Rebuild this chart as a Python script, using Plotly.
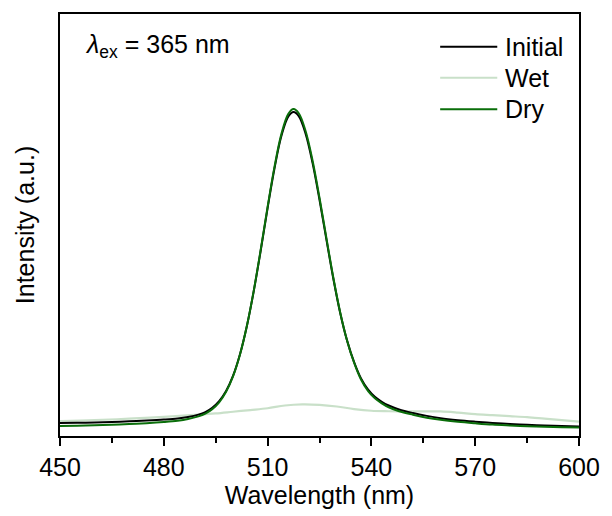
import plotly.graph_objects as go

# Photoluminescence spectra (excitation 365 nm)
wl_main = [450, 455, 460, 465, 470, 475, 480, 484, 487, 490, 492, 494, 496, 498,
           500, 502, 504, 506, 508, 510, 512, 514, 516,
           517.5,
           519, 521, 523, 525, 527, 529, 531, 533, 535, 537, 539, 541, 543,
           545, 548, 552, 556, 560, 565, 570, 575, 580, 585, 590, 595, 600]

initial = [13, 13.3, 13.7, 14.2, 14.8, 15.6, 16.6, 17.7, 19.2, 21.6, 24.2, 28.5, 35.2, 45.4,
           60.6, 82.2, 110.8, 146.3, 187, 230, 270.3, 303, 322.5,
           327,
           323, 305, 275.5, 238.5, 198.3, 158.8, 124, 96, 74.5, 58, 47, 39.5, 34.5,
           30.8, 26.8, 23.2, 20.3, 18, 16, 14.5, 13.2, 12.2, 11.3, 10.6, 10.1, 9.7]

dry = [10.1, 10.4, 10.8, 11.3, 12, 12.9, 14.1, 15.4, 17.1, 19.8, 22.6, 27.1, 34, 44.6,
       60.2, 82.1, 111, 146.8, 187.8, 231.2, 271.9, 305, 325.2,
       330,
       325.8, 307.7, 277.9, 240.5, 199.8, 159.8, 124.5, 96, 74, 57, 45.5, 38, 33,
       29, 25, 21.5, 18.5, 16.3, 14.3, 12.8, 11.5, 10.6, 9.8, 9.3, 8.8, 8.5]

wl_wet = [450, 460, 470, 480, 490, 495, 500, 505, 510, 515, 520, 525, 530, 535,
          540, 545, 550, 555, 560, 565, 570, 575, 580, 585, 590, 595, 600]
wet = [15, 16, 17.5, 19.4, 21.5, 22.8, 24.5, 26.2, 28, 30.8, 32, 31.5, 29.8, 27.2,
       25.5, 25, 24.8, 24.9, 24.8, 23.6, 22, 21, 20, 19, 17.5, 16, 14.5]

x_ticks = [450, 480, 510, 540, 570, 600]

colors = {"Initial": "#000000", "Wet": "#c9e0c9", "Dry": "#0a6e0a"}
FONT = "Liberation Sans, Arial, sans-serif"
FS = 25

fig = go.Figure()
fig.add_trace(go.Scatter(x=wl_wet, y=wet, mode="lines", name="Wet",
                         line=dict(color=colors["Wet"], width=2.2, shape="spline")))
fig.add_trace(go.Scatter(x=wl_main, y=initial, mode="lines", name="Initial",
                         line=dict(color=colors["Initial"], width=2, shape="spline")))
fig.add_trace(go.Scatter(x=wl_main, y=dry, mode="lines", name="Dry",
                         line=dict(color=colors["Dry"], width=2, shape="spline")))

# hand-placed legend: sample line + label per series
legend_rows = [("Initial", 0.9225), ("Wet", 0.849), ("Dry", 0.774)]
for name, yp in legend_rows:
    fig.add_shape(type="line", xref="paper", yref="paper", x0=0.7325, x1=0.8425,
                  y0=yp, y1=yp, line=dict(color=colors[name], width=2))
    fig.add_annotation(xref="paper", yref="paper", x=0.853, y=yp, text=name,
                       showarrow=False, xanchor="left", yanchor="middle",
                       font=dict(size=FS, color="black", family=FONT))

fig.add_annotation(xref="paper", yref="paper", x=0.045, y=0.925,
                   text="<i>λ</i><sub>ex</sub> = 365 nm", showarrow=False,
                   xanchor="left", yanchor="middle",
                   font=dict(size=FS, color="black", family=FONT))

fig.update_layout(
    width=612, height=516,
    margin=dict(l=60, r=25, t=12, b=78),
    paper_bgcolor="white", plot_bgcolor="white",
    showlegend=False,
    font=dict(family=FONT, size=FS, color="black"),
)
fig.update_xaxes(
    range=[450, 600], tickvals=x_ticks, ticks="outside", ticklen=8, tickwidth=1.5,
    tickcolor="black", showline=True, linecolor="black", linewidth=1.8, mirror=True,
    showgrid=False, zeroline=False,
    minor=dict(dtick=15, tick0=450, ticks="outside", ticklen=5, tickwidth=1.5, tickcolor="black"),
    title=dict(text="Wavelength (nm)", font=dict(size=FS), standoff=6),
    tickfont=dict(size=FS),
)
fig.update_yaxes(
    range=[0, 426], showticklabels=False, ticks="", showline=True, linecolor="black",
    linewidth=1.8, mirror=True, showgrid=False, zeroline=False,
    title=dict(text="Intensity (a.u.)", font=dict(size=FS), standoff=16),
)

fig.write_html("out.html")
